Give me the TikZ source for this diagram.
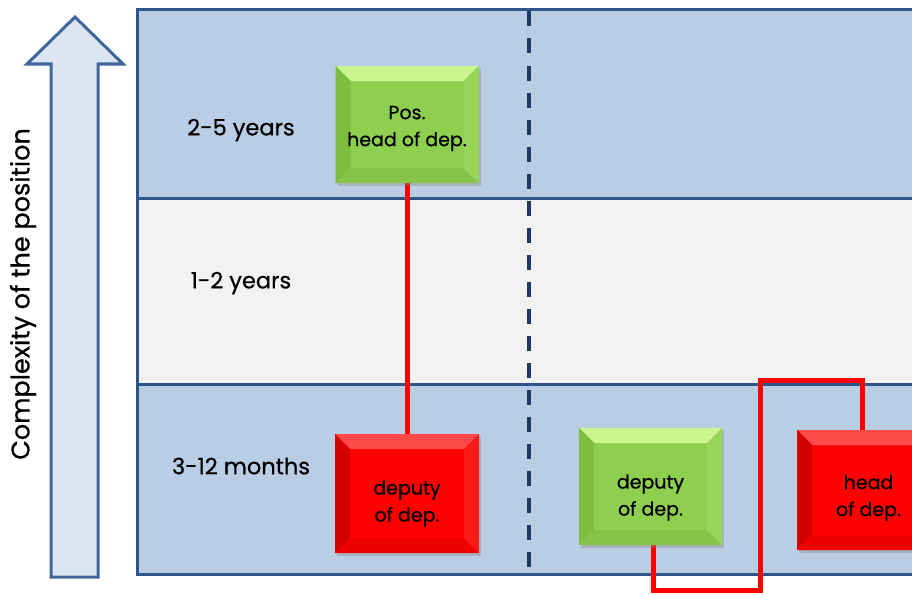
\documentclass[tikz,border=0pt]{standalone}
\usepackage{fontspec}
\setmainfont{Poppins}[FakeBold=0.6]
\usetikzlibrary{shadows}
\definecolor{bandblue}{HTML}{B9CDE5}
\definecolor{bandgrey}{HTML}{F2F2F2}
\definecolor{framecol}{HTML}{2E5489}
\definecolor{dashcol}{HTML}{1F3864}
\definecolor{arrowfill}{HTML}{DCE6F2}
\definecolor{arrowline}{HTML}{41679A}
\definecolor{gface}{HTML}{8FCF50}
\definecolor{gtop}{HTML}{CBF58E}
\definecolor{gleft}{HTML}{7DBD40}
\definecolor{gbottom}{HTML}{86C449}
\definecolor{gright}{HTML}{98D45A}
\definecolor{rface}{HTML}{FF0000}
\definecolor{rtop}{HTML}{FF4A4A}
\definecolor{rleft}{HTML}{D40000}
\definecolor{rbottom}{HTML}{EE0000}
\definecolor{rright}{HTML}{FF1A1A}
\tikzset{
  bevel/.style n args={5}{
    fill=#1, draw=none, minimum width=143pt, minimum height=117pt,
    drop shadow={shadow xshift=2pt, shadow yshift=-3pt, opacity=0.35},
    path picture={
      \path (path picture bounding box.south west) coordinate (bsw)
            (path picture bounding box.north east) coordinate (bne)
            (path picture bounding box.north west) coordinate (bnw)
            (path picture bounding box.south east) coordinate (bse);
      \path ([shift={(15pt,-15pt)}]bnw) coordinate (inw)
            ([shift={(-15pt,-15pt)}]bne) coordinate (ine)
            ([shift={(15pt,15pt)}]bsw) coordinate (isw)
            ([shift={(-15pt,15pt)}]bse) coordinate (ise);
      \fill[#2] (bnw) -- (bne) -- (ine) -- (inw) -- cycle;
      \fill[#3] (bnw) -- (inw) -- (isw) -- (bsw) -- cycle;
      \fill[#4] (bsw) -- (isw) -- (ise) -- (bse) -- cycle;
      \fill[#5] (bne) -- (bse) -- (ise) -- (ine) -- cycle;
    }},
  greenbox/.style={bevel={gface}{gtop}{gleft}{gbottom}{gright}},
  redbox/.style={bevel={rface}{rtop}{rleft}{rbottom}{rright}},
  boxtext/.style={align=center, font=\fontsize{19}{27}\selectfont, text=black},
  rowlabel/.style={font=\fontsize{22.5}{27}\selectfont, text=black},
  conn/.style={draw=red, line width=5pt},
  frameline/.style={draw=framecol, line width=3pt},
}
\begin{document}
\begin{tikzpicture}[x=1pt,y=-1pt]
\useasboundingbox (0,0) rectangle (912,594);
% bands
\fill[bandblue] (137,10) rectangle (940,198);
\fill[bandgrey] (137,198) rectangle (940,384);
\fill[bandblue] (137,384) rectangle (940,574);
\draw[frameline] (137,10) rectangle (940,574);
\draw[frameline] (137,198) -- (940,198);
\draw[frameline] (137,384) -- (940,384);
\draw[dashcol, line width=3.5pt, dash pattern=on 15pt off 12pt] (529,11.5) -- (529,574);
% big arrow
\draw[fill=arrowfill, draw=arrowline, line width=3pt, line join=miter]
  (51,577) -- (98,577) -- (98,64) -- (123,64) -- (75,17) -- (27,64) -- (51,64) -- cycle;
\node[rotate=90, font=\fontsize{25.5}{30}\selectfont] (axis) at (23,294) {Complexity of the position};
% row labels
\node[rowlabel] (l1) at (241,130) {2-5 years};
\node[rowlabel] (l2) at (241,283) {1-2 years};
\node[rowlabel] (l3) at (241,466) {3-12 months};
% connector coordinates
\coordinate (c1) at (760,590);
\coordinate (c2) at (760,380);
% connectors (drawn before boxes)
\draw[conn] (407,183) -- (407,434);
\draw[conn] (653,540) |- (c1) -- (c2) -| (862,435);
% boxes
\node[greenbox, label={[boxtext, yshift=-4pt]center:{Pos.\\head of dep.}}] (g1) at (407,124.5) {};
\node[redbox, minimum height=119pt, minimum width=144pt,
      label={[boxtext, yshift=-10pt]center:{deputy\\of dep.}}] (r1) at (407,493.5) {};
\node[greenbox, label={[boxtext, yshift=-11pt]center:{deputy\\of dep.}}] (g2) at (650.5,486.5) {};
\node[redbox, minimum height=120pt, label={[boxtext, yshift=-8pt]center:{head\\of dep.}}] (r2) at (868.5,490) {};
\end{tikzpicture}
\end{document}
